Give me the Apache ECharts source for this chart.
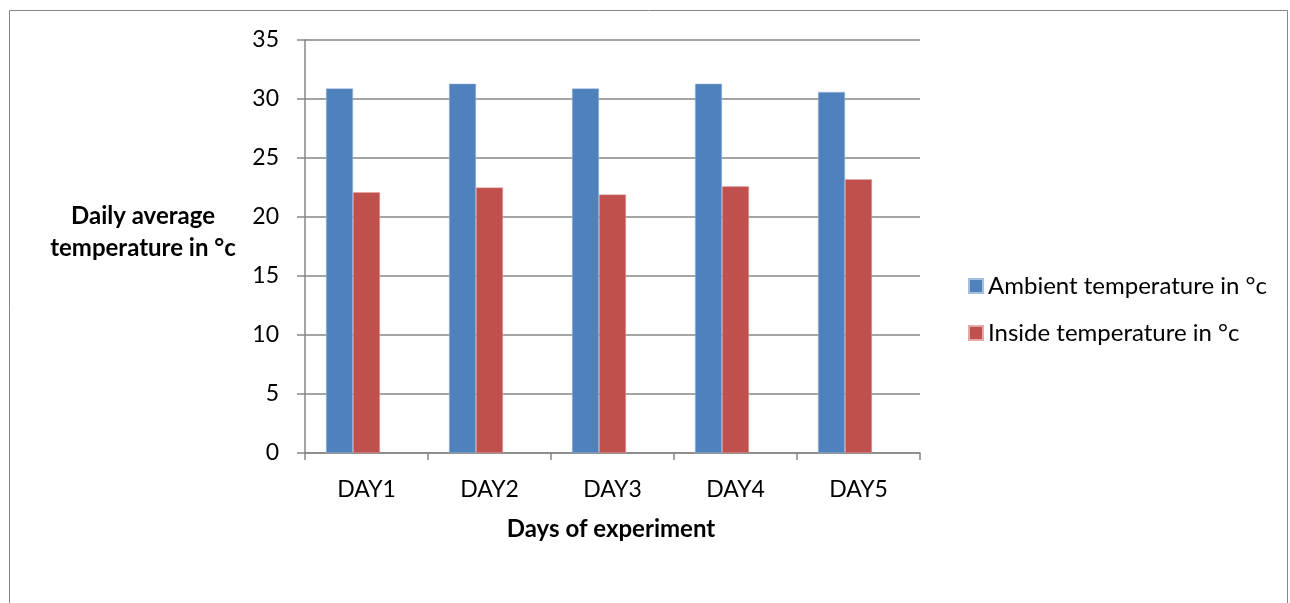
<!DOCTYPE html>
<html>
<head>
<meta charset="utf-8">
<script src="https://cdn.jsdelivr.net/npm/echarts@6/dist/echarts.min.js"></script>
<style>
  html, body { margin: 0; padding: 0; background: #fff; }
  #chart { width: 1290px; height: 603px; }
</style>
</head>
<body>
<div id="chart"></div>
<script>
// data
let days = ['DAY1', 'DAY2', 'DAY3', 'DAY4', 'DAY5']
let ambient = [30.9, 31.3, 30.9, 31.3, 30.6]
let inside = [22.1, 22.5, 21.9, 22.6, 23.2]
let seriesNames = ['Ambient temperature in °c', 'Inside temperature in °c']

let font = 'Lato, "Open Sans", sans-serif'
let gridColor = '#868686'

var myChart = echarts.init(document.getElementById('chart'))
var option = {
    animation: false,
    backgroundColor: '#fff',
    color: ['#4f81bd', '#c0504d'],
    grid: { left: 305, right: 370, top: 40, bottom: 150, containLabel: false },
    legend: {
        orient: 'vertical',
        left: 963,
        top: 269,
        itemWidth: 14,
        itemHeight: 14,
        itemGap: 23,
        icon: 'rect',
        textStyle: { fontFamily: font, fontSize: 24, lineHeight: 24, color: '#000' },
        data: seriesNames
    },
    xAxis: {
        type: 'category',
        data: days,
        axisLine: { lineStyle: { color: gridColor, width: 1.5 } },
        axisTick: { show: true, length: 7, lineStyle: { color: gridColor, width: 1.5 } },
        axisLabel: { fontFamily: font, fontSize: 23, color: '#000', margin: 25 }
    },
    yAxis: {
        type: 'value',
        min: 0,
        max: 35,
        interval: 5,
        axisLine: { show: true, lineStyle: { color: gridColor, width: 1.5 } },
        axisTick: { show: true, length: 8, lineStyle: { color: gridColor, width: 1.5 } },
        axisLabel: { fontFamily: font, fontSize: 23, color: '#000', margin: 26 },
        splitLine: { lineStyle: { color: gridColor, width: 1.5 } }
    },
    graphic: [
        {
            type: 'rect',
            shape: { x: 9.5, y: 10.5, width: 1278, height: 620 },
            style: { fill: 'none', stroke: '#868686', lineWidth: 1 },
            silent: true
        },
        {
            type: 'text',
            style: {
                text: 'Daily average\ntemperature in °c',
                x: 143, y: 232,
                align: 'center',
                verticalAlign: 'middle',
                lineHeight: 32,
                font: 'bold 24px ' + font,
                fill: '#000'
            }
        },
        {
            type: 'text',
            style: {
                text: 'Days of experiment',
                x: 611, y: 529,
                align: 'center',
                verticalAlign: 'middle',
                font: 'bold 24px ' + font,
                fill: '#000'
            }
        }
    ],
    series: [
        {
            name: seriesNames[0],
            type: 'bar',
            data: ambient,
            barWidth: 27,
            barGap: '0%',
            itemStyle: { borderColor: '#a7bfdf', borderWidth: 0.5 }
        },
        {
            name: seriesNames[1],
            type: 'bar',
            data: inside,
            barWidth: 27,
            barGap: '0%',
            itemStyle: { borderColor: '#e3a9a7', borderWidth: 0.5 }
        },
        {
            // empty third slot, keeps the pair left of the category centre like the original
            name: 'blank',
            type: 'bar',
            data: [],
            barWidth: 27,
            barGap: '0%'
        }
    ]
}
myChart.setOption(option)
</script>
</body>
</html>
